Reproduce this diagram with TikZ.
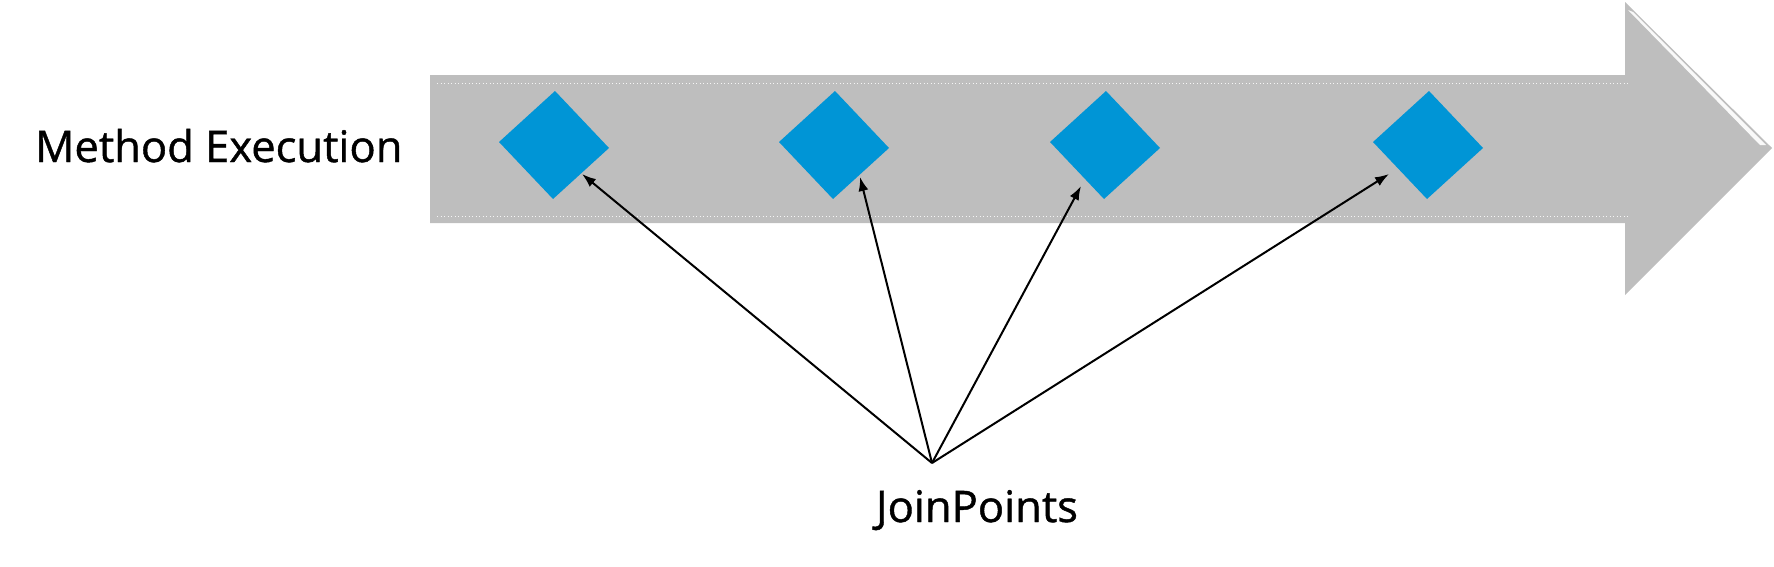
\documentclass[tikz,border=0pt]{standalone}
\usepackage{fontspec}
\setmainfont{Open Sans}
\newfontfamily\lblfont{Open Sans}[FakeBold=1.0]
\usetikzlibrary{arrows.meta}
\definecolor{bodygray}{RGB}{190,190,190}
\definecolor{jpblue}{RGB}{0,149,214}
\begin{document}
\begin{tikzpicture}[x=1pt,y=-1pt,
  lbl/.style={inner sep=0pt,font=\lblfont\fontsize{43.5}{52}\selectfont,text=black},
  jparrow/.style={draw=black,line width=2pt,-{Latex[length=14pt,width=10pt]}},
  jpdiamond/.style={fill=jpblue,draw=none},
  dotline/.style={draw=white!85!bodygray,line width=1pt,dash pattern=on 1.2pt off 2.3pt}]
\useasboundingbox (0,0) rectangle (1774,566);
% big arrow
\fill[bodygray] (430,75) -- (1625,75) -- (1625,2) -- (1772,148) -- (1625,295) -- (1625,223) -- (430,223) -- cycle;
\fill[white!90!bodygray] (1628,10) -- (1633,12) -- (1766,145) -- (1760,145) -- cycle;
\draw[dotline] (437,83) -- (1628,83);
\draw[dotline] (437,216) -- (1628,216);
% diamonds
\foreach \n/\cx in {d1/554,d2/834,d3/1105,d4/1428}{
  \fill[jpblue] (\cx+1,91) -- (\cx+55,148) -- (\cx-1,199) -- (\cx-55,142) -- cycle;
  \coordinate (\n) at (\cx,145);
}
% labels
\node[lbl,anchor=base west] (me) at (35,162) {Method Execution};
\node[lbl,anchor=base] (jpt) at (977,522) {JoinPoints};
\coordinate (jp) at (932,463);
\coordinate (t1) at (582,174);
\coordinate (t2) at (860,177);
\coordinate (t3) at (1081,186);
\coordinate (t4) at (1389,174);
\foreach \t in {t1,t2,t3,t4}{\draw[jparrow] (jp) -- (\t);}
\end{tikzpicture}
\end{document}
